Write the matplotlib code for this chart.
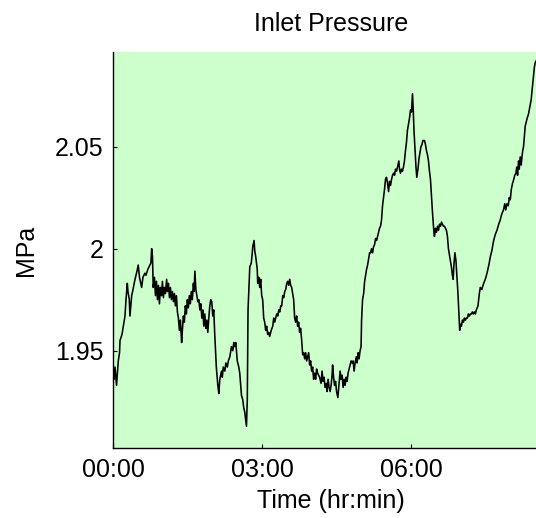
import matplotlib.pyplot as plt

# inlet pressure log: minutes since start of run, pressure in MPa
minutes = [
    0.0, 0.8, 2.0, 3.9, 5.1, 6.0, 7.5, 8.1, 10.5, 12.1,
    14.1, 15.3, 16.9, 17.7, 19.3, 20.1, 22.2, 23.8, 26.2, 28.6,
    30.1, 31.6, 34.2, 35.8, 38.2, 39.4, 41.8, 44.2, 45.4, 46.3,
    47.3, 48.2, 49.7, 50.9, 52.1, 53.3, 54.5, 55.7, 56.9, 58.1,
    59.3, 60.5, 61.7, 62.9, 64.4, 65.4, 66.6, 67.8, 69.0, 70.2,
    71.4, 72.6, 73.8, 75.0, 76.2, 77.4, 78.6, 79.8, 81.0, 82.5,
    83.4, 84.6, 85.8, 87.0, 88.2, 89.4, 90.6, 91.8, 93.0, 94.2,
    95.4, 96.7, 97.6, 98.5, 99.7, 100.9, 102.1, 103.3, 104.5, 105.7,
    106.9, 108.1, 109.3, 110.5, 111.7, 112.9, 114.1, 115.3, 116.5, 117.7,
    118.9, 120.1, 121.3, 122.5, 124.4, 126.2, 127.4, 128.6, 130.7, 131.6,
    132.8, 134.7, 135.9, 137.7, 138.9, 140.7, 142.7, 144.3, 145.5, 146.7,
    147.9, 149.7, 150.3, 151.5, 152.7, 154.8, 156.3, 157.5, 158.7, 160.8,
    161.8, 162.7, 164.2, 164.8, 166.6, 167.6, 168.4, 170.0, 170.8, 172.0,
    172.9, 173.8, 174.4, 175.6, 176.8, 178.0, 179.2, 180.4, 181.6, 182.8,
    184.0, 185.2, 186.4, 187.6, 188.8, 190.7, 192.5, 193.7, 194.9, 196.1,
    197.3, 198.6, 199.8, 201.0, 202.2, 203.4, 204.6, 205.8, 207.0, 208.2,
    209.4, 210.6, 211.8, 213.0, 214.2, 215.4, 216.6, 217.8, 219.0, 220.2,
    221.4, 222.6, 223.8, 225.0, 226.2, 227.5, 228.7, 229.9, 231.1, 232.3,
    233.5, 234.7, 235.9, 237.1, 238.3, 239.5, 240.7, 241.9, 243.1, 244.3,
    245.5, 246.7, 249.1, 250.9, 252.1, 253.3, 254.5, 255.7, 257.2, 258.1,
    259.4, 260.6, 261.8, 263.0, 264.2, 264.8, 266.0, 267.2, 268.4, 269.6,
    271.2, 272.7, 273.9, 275.1, 276.3, 277.5, 278.7, 279.9, 281.1, 282.3,
    283.5, 285.4, 287.2, 288.4, 289.6, 290.8, 292.0, 293.4, 294.4, 295.6,
    296.8, 298.0, 299.2, 299.8, 301.0, 302.3, 303.5, 304.7, 305.9, 307.1,
    308.3, 309.5, 310.7, 311.9, 313.1, 314.3, 315.5, 316.7, 317.9, 319.1,
    320.3, 321.5, 322.7, 323.9, 325.1, 326.3, 327.5, 328.7, 329.9, 331.2,
    332.4, 333.6, 334.8, 336.0, 337.2, 338.4, 339.6, 340.8, 342.0, 343.2,
    344.8, 345.6, 346.8, 348.0, 349.2, 350.4, 351.6, 352.8, 354.0, 355.2,
    356.4, 357.7, 358.9, 360.1, 361.3, 362.2, 363.1, 364.3, 365.5, 366.5,
    367.9, 369.1, 370.3, 371.5, 372.7, 373.9, 375.8, 377.0, 378.2, 379.4,
    380.6, 381.8, 383.0, 384.2, 385.4, 387.0, 387.8, 389.0, 390.2, 391.5,
    392.7, 393.9, 395.1, 396.3, 397.5, 398.7, 399.9, 401.1, 402.3, 403.5,
    404.7, 405.9, 407.1, 408.3, 409.5, 410.4, 411.3, 412.5, 413.8, 415.0,
    416.2, 417.1, 418.3, 419.2, 420.4, 421.6, 422.8, 424.0, 425.2, 426.4,
    427.6, 428.8, 430.0, 431.2, 432.4, 433.6, 434.8, 436.0, 437.2, 438.4,
    440.4, 442.0, 443.2, 445.0, 447.2, 449.2, 451.3, 453.5, 455.3, 457.1,
    459.3, 461.3, 463.3, 465.4, 467.2, 469.1, 471.2, 472.7, 473.9, 475.3,
    476.9, 478.1, 479.4, 480.6, 482.1, 483.6, 484.8, 486.2, 487.2, 488.2,
    489.4, 490.2, 491.4, 492.6, 493.5, 494.4, 495.4, 496.2, 497.4, 498.6,
    499.8, 501.4, 502.8, 504.6, 505.8, 507.4, 508.5, 509.4, 514.0,
]

pressure = [
    1.939, 1.936, 1.942, 1.933, 1.940, 1.945, 1.949, 1.955, 1.958, 1.962,
    1.967, 1.975, 1.983, 1.979, 1.975, 1.967, 1.977, 1.980, 1.985, 1.989,
    1.992, 1.986, 1.981, 1.986, 1.988, 1.987, 1.990, 1.992, 1.993, 2.000,
    1.996, 1.981, 1.986, 1.977, 1.984, 1.975, 1.982, 1.973, 1.981, 1.977,
    1.984, 1.976, 1.981, 1.978, 1.985, 1.979, 1.983, 1.976, 1.981, 1.975,
    1.979, 1.974, 1.978, 1.972, 1.977, 1.969, 1.966, 1.960, 1.965, 1.954,
    1.960, 1.967, 1.964, 1.972, 1.968, 1.975, 1.971, 1.977, 1.973, 1.979,
    1.975, 1.983, 1.979, 1.989, 1.980, 1.977, 1.974, 1.975, 1.970, 1.973,
    1.966, 1.970, 1.962, 1.968, 1.961, 1.965, 1.959, 1.966, 1.972, 1.975,
    1.974, 1.967, 1.970, 1.958, 1.942, 1.933, 1.929, 1.936, 1.940, 1.937,
    1.942, 1.940, 1.944, 1.942, 1.945, 1.947, 1.952, 1.950, 1.954, 1.952,
    1.954, 1.945, 1.944, 1.942, 1.939, 1.928, 1.926, 1.922, 1.920, 1.913,
    1.926, 1.970, 1.985, 1.991, 1.993, 1.997, 2.001, 2.004, 1.999, 1.996,
    1.993, 1.990, 1.983, 1.986, 1.981, 1.985, 1.977, 1.975, 1.966, 1.964,
    1.960, 1.962, 1.958, 1.959, 1.957, 1.960, 1.962, 1.966, 1.964, 1.966,
    1.968, 1.967, 1.970, 1.969, 1.972, 1.972, 1.977, 1.976, 1.979, 1.980,
    1.983, 1.984, 1.982, 1.985, 1.982, 1.981, 1.978, 1.975, 1.966, 1.964,
    1.967, 1.962, 1.964, 1.959, 1.961, 1.955, 1.948, 1.949, 1.946, 1.949,
    1.945, 1.947, 1.949, 1.943, 1.945, 1.940, 1.942, 1.936, 1.939, 1.936,
    1.941, 1.939, 1.937, 1.934, 1.940, 1.935, 1.937, 1.932, 1.934, 1.930,
    1.936, 1.932, 1.930, 1.933, 1.938, 1.943, 1.937, 1.933, 1.935, 1.930,
    1.927, 1.934, 1.940, 1.936, 1.938, 1.932, 1.936, 1.933, 1.937, 1.935,
    1.939, 1.942, 1.945, 1.944, 1.945, 1.940, 1.944, 1.947, 1.944, 1.949,
    1.946, 1.950, 1.952, 1.965, 1.975, 1.978, 1.984, 1.987, 1.990, 1.992,
    1.995, 1.998, 1.998, 2.000, 1.998, 2.001, 2.002, 2.005, 2.004, 2.006,
    2.008, 2.010, 2.011, 2.014, 2.021, 2.025, 2.029, 2.034, 2.035, 2.032,
    2.028, 2.033, 2.031, 2.034, 2.036, 2.037, 2.036, 2.039, 2.038, 2.040,
    2.043, 2.039, 2.037, 2.039, 2.038, 2.040, 2.043, 2.048, 2.052, 2.058,
    2.061, 2.064, 2.068, 2.067, 2.076, 2.068, 2.058, 2.049, 2.040, 2.035,
    2.039, 2.044, 2.047, 2.050, 2.051, 2.053, 2.053, 2.051, 2.048, 2.046,
    2.043, 2.038, 2.034, 2.026, 2.018, 2.009, 2.006, 2.010, 2.008, 2.011,
    2.009, 2.012, 2.011, 2.013, 2.012, 2.011, 2.011, 2.010, 2.009, 2.006,
    2.000, 1.997, 1.994, 1.991, 1.987, 1.985, 1.992, 1.998, 1.994, 1.986,
    1.978, 1.970, 1.960, 1.963, 1.962, 1.965, 1.964, 1.966, 1.965, 1.966,
    1.966, 1.968, 1.967, 1.968, 1.968, 1.969, 1.968, 1.969, 1.968, 1.970,
    1.972, 1.978, 1.981, 1.980, 1.983, 1.985, 1.988, 1.992, 1.996, 1.999,
    2.004, 2.007, 2.009, 2.012, 2.014, 2.017, 2.019, 2.022, 2.019, 2.022,
    2.021, 2.025, 2.024, 2.029, 2.032, 2.034, 2.036, 2.037, 2.040, 2.036,
    2.043, 2.039, 2.045, 2.041, 2.045, 2.048, 2.050, 2.054, 2.060, 2.062,
    2.064, 2.066, 2.069, 2.073, 2.078, 2.085, 2.089, 2.091, 2.095,
]

tick_minutes = [0, 180, 360]
tick_labels = ["00:00", "03:00", "06:00"]
y_ticks = [1.95, 2.0, 2.05]
y_tick_labels = ["1.95", "2", "2.05"]

assert len(minutes) == len(pressure)

plt.rcParams["font.family"] = ["Liberation Sans", "DejaVu Sans"]

fig = plt.figure(figsize=(5.36, 5.18), dpi=100)
# axes run a little past the right edge of the canvas
ax = fig.add_axes([0.2114, 0.1351, 0.8134, 0.7645])
ax.set_facecolor("#ccffcc")

ax.plot(minutes, pressure, color="black", linewidth=1.15)

ax.set_xlim(0, 526.5)
ax.set_ylim(1.9023, 2.0964)
ax.set_xticks(tick_minutes)
ax.set_xticklabels(tick_labels)
ax.set_yticks(y_ticks)
ax.set_yticklabels(y_tick_labels)

for side in ("top", "right"):
    ax.spines[side].set_visible(False)
for side in ("left", "bottom"):
    ax.spines[side].set_linewidth(1.0)
    ax.spines[side].set_color("black")

ax.tick_params(axis="both", direction="in", length=3, width=0.8,
               labelsize=18, colors="black")
ax.tick_params(axis="x", pad=7)
ax.tick_params(axis="y", pad=7)

ax.set_title("Inlet Pressure", fontsize=18, pad=15)
ax.set_xlabel("Time (hr:min)", fontsize=18, labelpad=5)
ax.set_ylabel("MPa", fontsize=18, labelpad=12)

fig.savefig("out.png", dpi=100)
